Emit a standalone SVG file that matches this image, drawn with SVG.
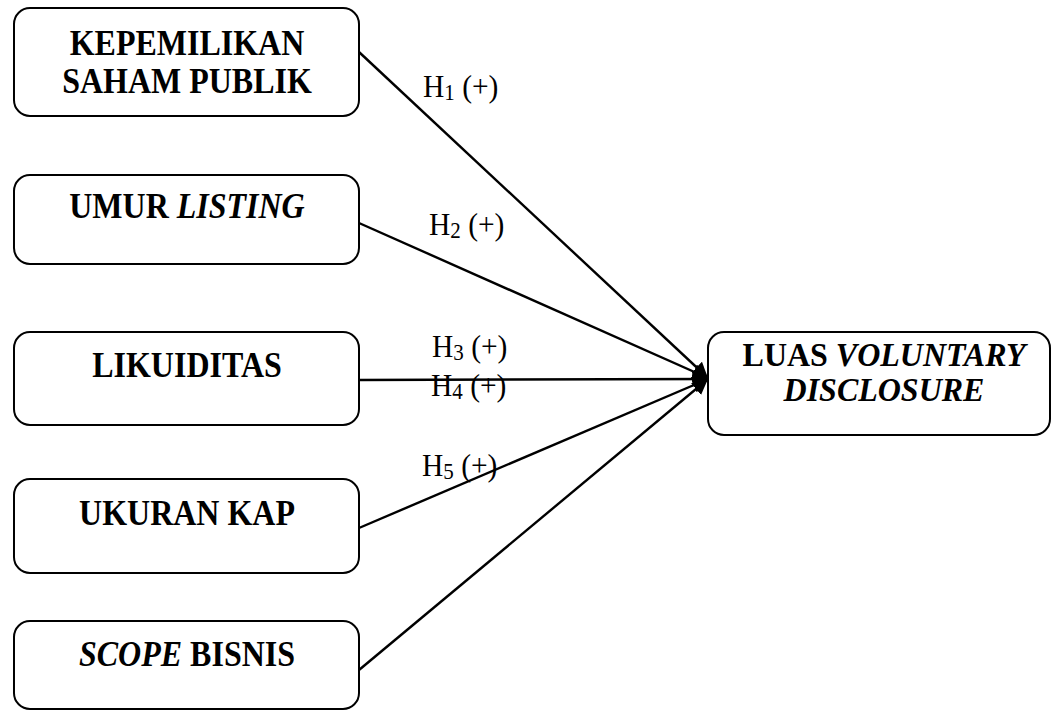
<svg xmlns="http://www.w3.org/2000/svg" width="1055" height="711" viewBox="0 0 1055 711">
<style>
.box{fill:#fff;stroke:#000;stroke-width:2}
.bt{font-family:"Liberation Serif","Times New Roman",serif;font-size:32px;font-weight:bold;text-anchor:middle;fill:#000}
.lb{font-family:"Liberation Serif","Times New Roman",serif;font-size:29.5px;fill:#000}
.sub{font-size:21px}
.ln{stroke:#000;stroke-width:2.4;fill:none;marker-end:url(#ah)}
</style>
<defs>
<marker id="ah" viewBox="0 0 10 10" refX="10" refY="5" markerWidth="6.5" markerHeight="6.5" markerUnits="strokeWidth" orient="auto">
<path d="M0,0 L10,5 L0,10 z" fill="#000"/>
</marker>
</defs>
<rect width="1055" height="711" fill="#fff"/>
<g id="connectors">
<line class="ln" x1="359" y1="52" x2="708" y2="378"/>
<line class="ln" x1="359" y1="223" x2="708" y2="378"/>
<line class="ln" x1="359" y1="380" x2="708" y2="379"/>
<line class="ln" x1="359" y1="528" x2="708" y2="379"/>
<line class="ln" x1="359" y1="670" x2="708" y2="379"/>
<text class="lb" transform="translate(423 97) scale(1 1.08)">H<tspan class="sub" dy="3">1</tspan><tspan dy="-3"> (+)</tspan></text>
<text class="lb" transform="translate(429 235) scale(1 1.08)">H<tspan class="sub" dy="3">2</tspan><tspan dy="-3"> (+)</tspan></text>
<text class="lb" transform="translate(432 357) scale(1 1.08)">H<tspan class="sub" dy="3">3</tspan><tspan dy="-3"> (+)</tspan></text>
<text class="lb" transform="translate(431 396) scale(1 1.08)">H<tspan class="sub" dy="3">4</tspan><tspan dy="-3"> (+)</tspan></text>
<text class="lb" transform="translate(422 476) scale(1 1.08)">H<tspan class="sub" dy="3">5</tspan><tspan dy="-3"> (+)</tspan></text>
</g>
<g id="n1">
<rect class="box" x="14" y="8" width="345" height="108" rx="16"/>
<text class="bt" transform="translate(187 55) scale(1 1.1)">KEPEMILIKAN</text>
<text class="bt" transform="translate(187 93) scale(1 1.1)">SAHAM PUBLIK</text>
</g>
<g id="n2">
<rect class="box" x="14" y="175" width="345" height="89" rx="16"/>
<text class="bt" transform="translate(187 218) scale(1 1.1)">UMUR <tspan font-style="italic">LISTING</tspan></text>
</g>
<g id="n3">
<rect class="box" x="14" y="332" width="345" height="93" rx="16"/>
<text class="bt" transform="translate(187 377) scale(1 1.1)">LIKUIDITAS</text>
</g>
<g id="n4">
<rect class="box" x="14" y="479" width="345" height="94" rx="16"/>
<text class="bt" transform="translate(187 525) scale(1 1.1)">UKURAN KAP</text>
</g>
<g id="n5">
<rect class="box" x="14" y="621" width="345" height="88" rx="16"/>
<text class="bt" transform="translate(187 666) scale(1 1.1)"><tspan font-style="italic">SCOPE</tspan> BISNIS</text>
</g>
<g id="n6">
<rect class="box" x="708" y="332" width="342" height="103" rx="16"/>
<text class="bt" transform="translate(884 366) scale(1 1.05)">LUAS <tspan font-style="italic">VOLUNTARY</tspan></text>
<text class="bt" font-style="italic" transform="translate(884 401) scale(1 1.05)">DISCLOSURE</text>
</g>
</svg>
